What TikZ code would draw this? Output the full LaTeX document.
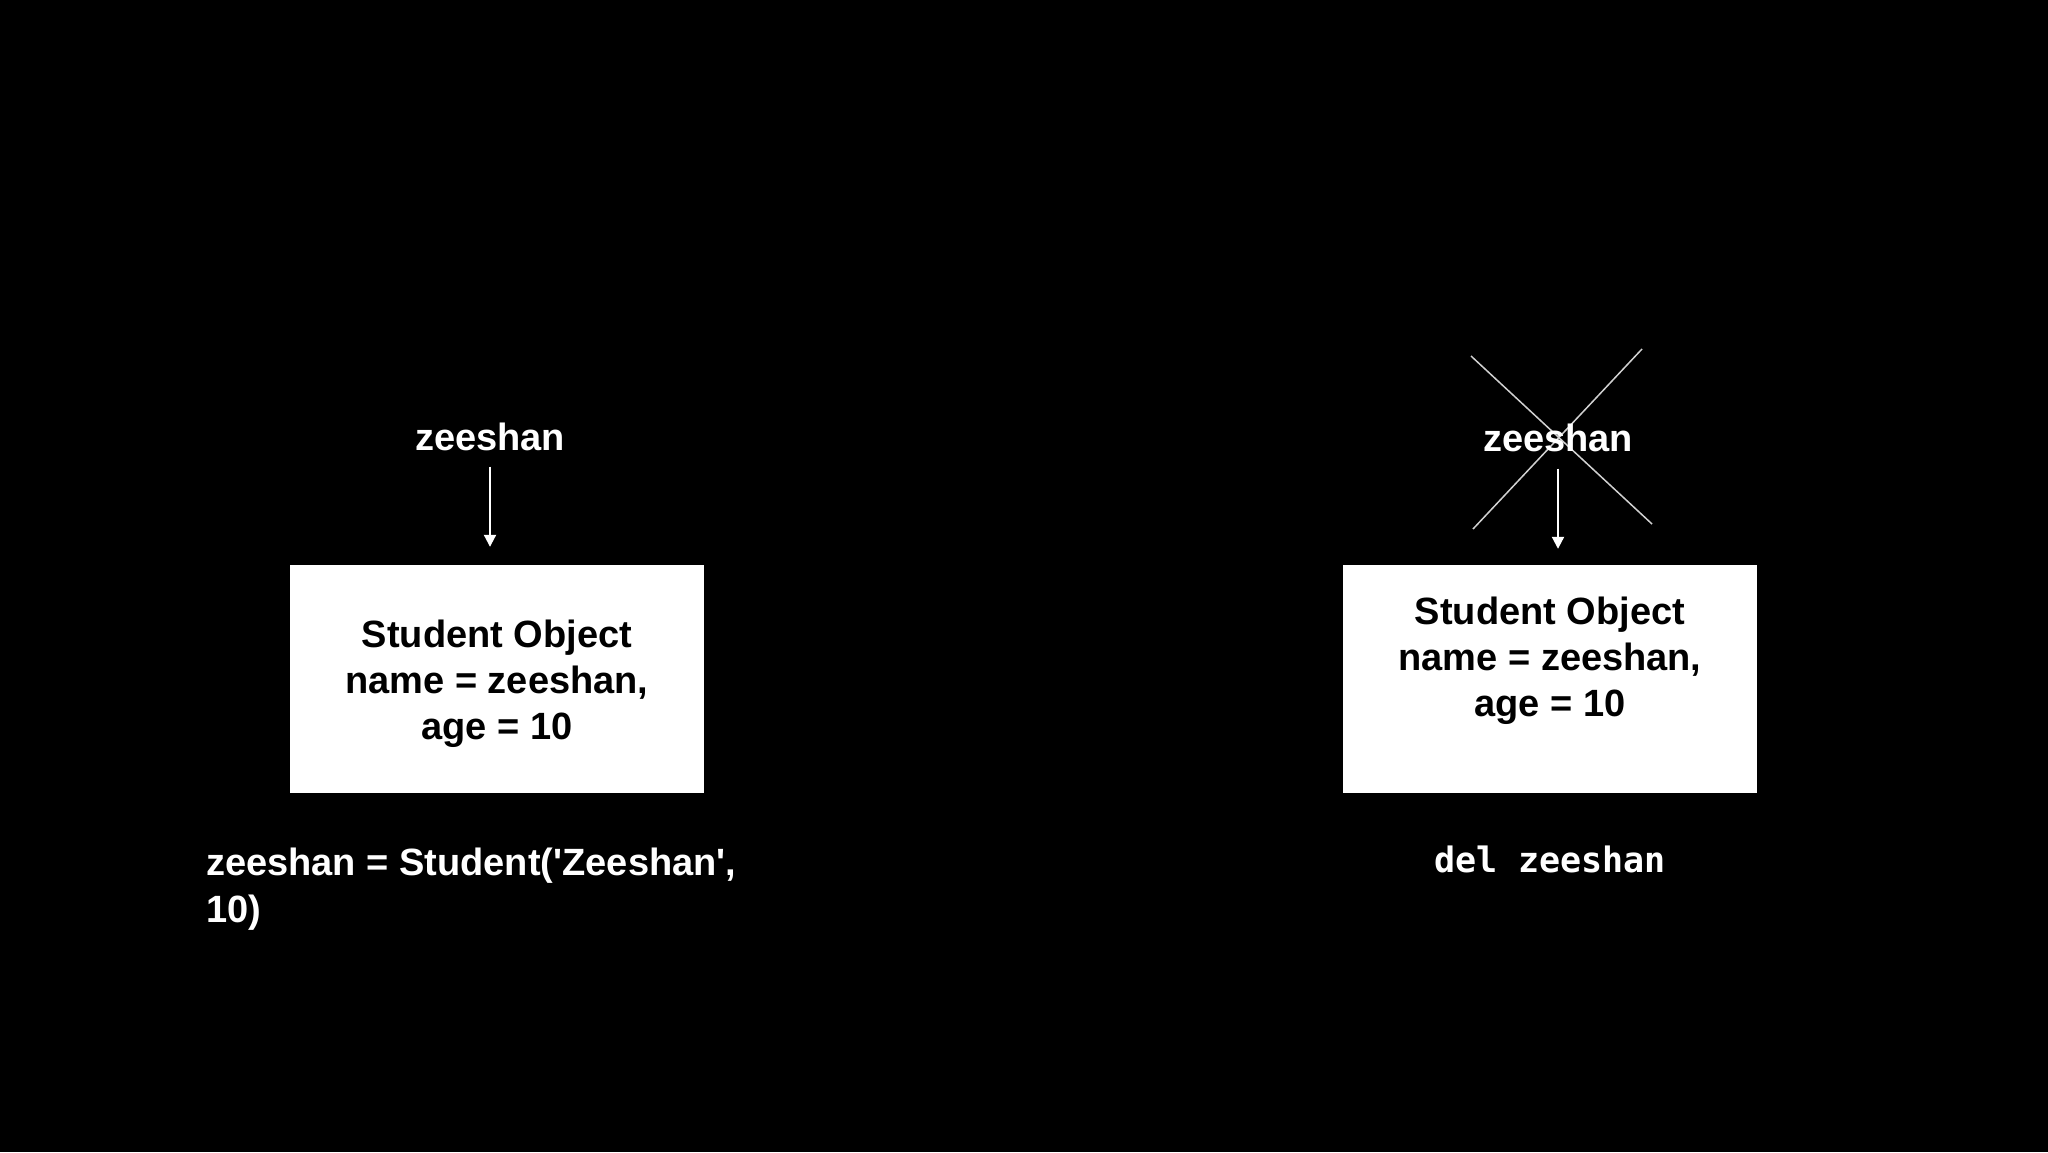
\documentclass[tikz,border=0pt]{standalone}
\usepackage{fontspec}
\setmainfont{Liberation Sans}[Ligatures=TeXOff]
\newfontfamily\codefont{DejaVu Sans Mono}
\usetikzlibrary{arrows.meta}
\begin{document}
\begin{tikzpicture}[x=1pt,y=-1pt,
  lbl/.style={text=white, font=\bfseries\fontsize{38}{46}\selectfont, inner sep=0pt, anchor=base},
  boxtxt/.style={text=black, font=\bfseries\fontsize{38}{46}\selectfont, inner sep=0pt, anchor=base},
  codetxt/.style={text=white, font=\codefont\bfseries\fontsize{35}{42}\selectfont, inner sep=0pt, anchor=base},
  objbox/.style={fill=white, draw=none, minimum width=414pt, minimum height=228pt, inner sep=0pt},
  ptr/.style={draw=white, line width=2pt, -{Triangle[length=12pt,width=12pt]}},
  crossline/.style={draw=white!82!black, line width=1.5pt}]
\fill[black] (0,0) rectangle (2048,1152);
\useasboundingbox (0,0) rectangle (2048,1152);

% left
\node[objbox] (box1) at (497,679) {};
\node[boxtxt] (b1l1) at (497,647) {Student Object};
\node[boxtxt] (b1l2) at (497,693) {name = zeeshan,};
\node[boxtxt] (b1l3) at (497,739) {age = 10};
\node[lbl] (lab1) at (490,450) {zeeshan};
\draw[ptr, shorten <=16pt, shorten >=18pt] (lab1.south) -- (lab1.south |- box1.north);
\node[lbl, anchor=base west] (code1a) at (206,875) {zeeshan = Student('Zeeshan',};
\node[lbl, anchor=base west] (code1b) at (206,922) {10)};

% right
\node[objbox] (box2) at (1550,679) {};
\node[boxtxt] (b2l1) at (1550,624) {Student Object};
\node[boxtxt] (b2l2) at (1550,670) {name = zeeshan,};
\node[boxtxt] (b2l3) at (1550,716) {age = 10};
\coordinate (c1) at (1471,356);
\coordinate (c2) at (1652,524);
\coordinate (c3) at (1642,349);
\coordinate (c4) at (1473,529);
\draw[crossline] (c1) -- (c2);
\draw[crossline] (c3) -- (c4);
\node[lbl] (lab2) at (1558,451) {zeeshan};
\draw[ptr, shorten <=17pt, shorten >=16pt] (lab2.south) -- (lab2.south |- box2.north);
\node[codetxt] (code2) at (1550,872) {del zeeshan};
\end{tikzpicture}
\end{document}
